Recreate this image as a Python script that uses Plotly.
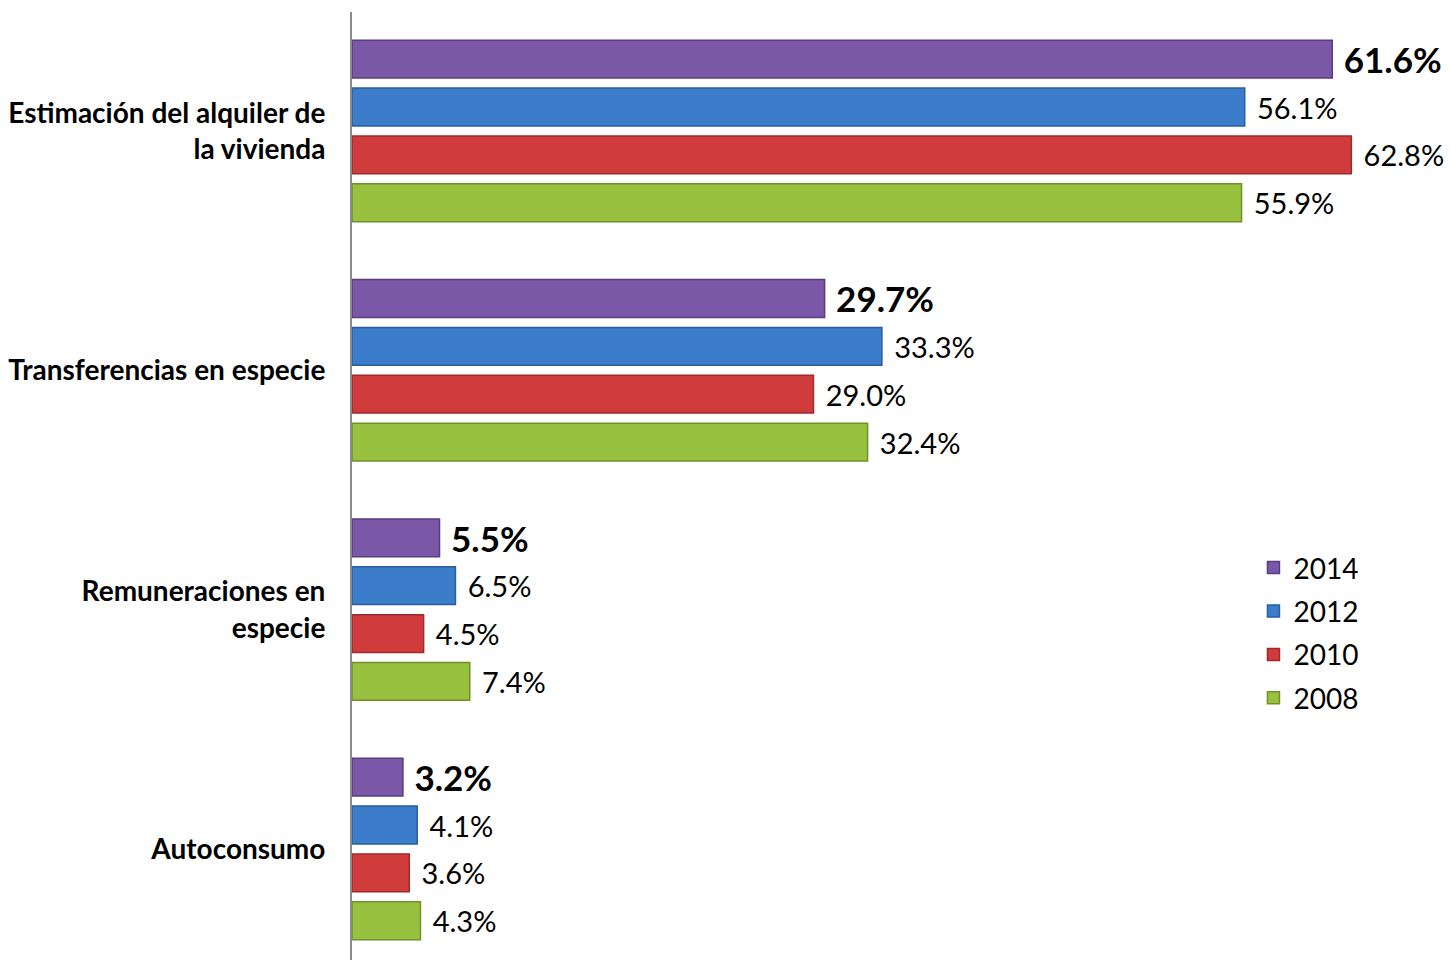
import plotly.graph_objects as go

categories = ["Estimación del alquiler de<br>la vivienda", "Transferencias en especie",
              "Remuneraciones en<br>especie", "Autoconsumo"]
years = ["2014", "2012", "2010", "2008"]
v2014 = [61.6, 29.7, 5.5, 3.2]
v2012 = [56.1, 33.3, 6.5, 4.1]
v2010 = [62.8, 29.0, 4.5, 3.6]
v2008 = [55.9, 32.4, 7.4, 4.3]
series = [v2014, v2012, v2010, v2008]
colors = ["#7B57A8", "#3B7DCA", "#D03C3C", "#98C140"]
edges = ["#5A3D80", "#2A5E9E", "#9E2A2A", "#6F9128"]

NBSP = "\u00a0"
HAIR = "\u200a"

fig = go.Figure()
for i, (yr, vals) in enumerate(zip(years, series)):
    bold = i == 0
    pad = NBSP if bold else NBSP + HAIR
    fig.add_trace(go.Bar(
        y=list(range(len(categories))), x=vals, name=yr, orientation="h",
        legendgroup=yr,
        marker=dict(color=colors[i], line=dict(color=edges[i], width=1.5)),
        text=[f"{pad}{v:.1f}%" for v in vals],
        texttemplate="<b>%{text}</b>" if bold else "%{text}",
        textposition="outside", cliponaxis=False, constraintext="none",
        textfont=dict(family="Lato", size=35 if bold else 29, color="black"),
        hoverinfo="skip",
    ))

fig.update_layout(
    width=1450, height=960,
    margin=dict(l=352, r=0, t=12, b=0, autoexpand=False),
    paper_bgcolor="white", plot_bgcolor="white",
    barmode="group", bargap=0.2, bargroupgap=0.21,
    showlegend=True,
    legend=dict(x=0.821, y=0.44, xanchor="left", yanchor="top",
                traceorder="grouped", tracegroupgap=4,
                font=dict(family="Lato", size=28, color="black"),
                bgcolor="rgba(0,0,0,0)"),
    xaxis=dict(range=[0, 69], visible=False, showgrid=False, zeroline=False,
               automargin=False),
    yaxis=dict(range=[3.464, -0.497], tickvals=list(range(len(categories))),
               ticktext=[f"<b>{c}</b>" for c in categories],
               showline=True, linecolor="#8a8a8a", linewidth=2,
               ticks="", showgrid=False, zeroline=False, automargin=False,
               ticklabelstandoff=19,
               tickfont=dict(family="Lato", size=28, color="black")),
    font=dict(family="Lato"),
)

fig.write_html(
    "out.html",
    config={"displayModeBar": False},
    post_script="document.body.style.margin='0';document.body.style.overflow='hidden';",
)
